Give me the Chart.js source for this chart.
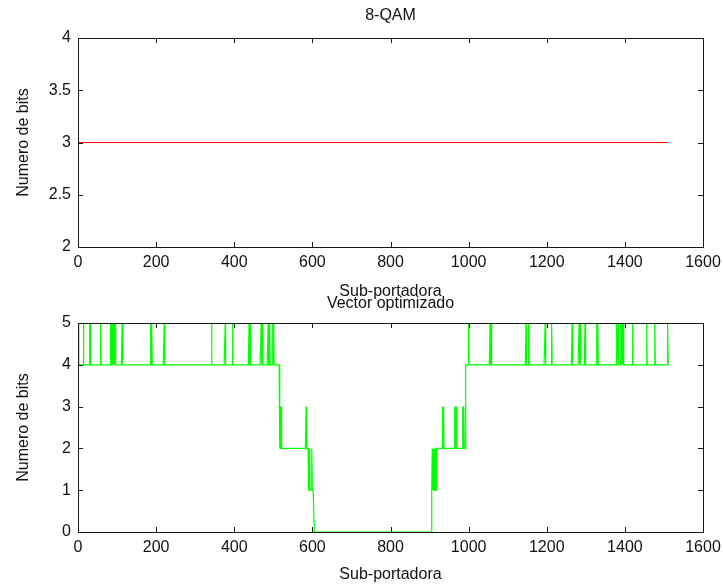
<!DOCTYPE html>
<html>
<head>
<meta charset="utf-8">
<script src="https://cdn.jsdelivr.net/npm/chart.js@4.4.0/dist/chart.umd.min.js"></script>
<style>
  html, body { margin: 0; padding: 0; background: #ffffff; }
  #wrap { position: relative; width: 723px; height: 587px; background: #ffffff; overflow: hidden; }
  #c1 { position: absolute; left: 0; top: 0; }
  #c2 { position: absolute; left: 0; top: 290px; }
</style>
</head>
<body>
<div id="wrap">
  <canvas id="c1" width="723" height="300"></canvas>
  <canvas id="c2" width="723" height="297"></canvas>
</div>
<script>
// ---------------- DATA ----------------
const numSubcarriers = 1512;
const xTicks = [0, 200, 400, 600, 800, 1000, 1200, 1400, 1600];
const qamTicks = [2, 2.5, 3, 3.5, 4];
const optTicks = [0, 1, 2, 3, 4, 5];
const qamBits = 3;                 // constant 8-QAM loading
// optimized vector: [first subcarrier, last subcarrier, bits]
const levelSegments = [
  [1, 516, 4],
  [517, 589, 2],
  [590, 604, 1],
  [605, 904, 0],
  [905, 917, 1],
  [918, 992, 2],
  [993, 1512, 4]
];
// single-subcarrier deviations: [subcarrier, bits]
const spikes = [
  [1,5],[14,5],[30,5],[32,5],[58,5],[84,5],[87,5],[90,5],[93,5],[95,5],[113,5],
  [186,5],[189,5],[221,5],[342,5],[377,5],[396,5],[438,5],[441,5],[469,5],[472,5],
  [487,5],[491,5],[498,5],[501,5],
  [518,3],[521,3],[584,3],
  [591,2],[593,2],[599,2],
  [907,2],[909,2],[911,2],[913,2],[915,2],
  [933,3],[936,3],[965,3],[968,3],[985,3],[988,3],
  [1000,5],[1055,5],[1058,5],[1147,5],[1154,5],[1196,5],[1213,5],[1265,5],
  [1283,5],[1286,5],[1298,5],[1328,5],[1331,5],[1379,5],[1383,5],[1390,5],
  [1393,5],[1396,5],[1420,5],[1456,5],[1477,5],[1510,5]
];

// ---------------- BUILD SERIES ----------------
const spikeMap = new Map(spikes);
function levelAt(n) {
  for (const [a, b, v] of levelSegments) if (n >= a && n <= b) return v;
  return null;
}
const optPoints = [];
const qamPoints = [];
for (let n = 1; n <= numSubcarriers; n++) {
  const v = spikeMap.has(n) ? spikeMap.get(n) : levelAt(n);
  optPoints.push({ x: n, y: v });
  qamPoints.push({ x: n, y: qamBits });
}

// ---------------- STYLE ----------------
const FONT = "'Liberation Sans', Arial, Helvetica, sans-serif";
const TXT = '#111111';
const FS = 16;
Chart.defaults.animation = false;
Chart.defaults.font.family = FONT;
Chart.defaults.color = TXT;

const boxTicks = {
  id: 'boxTicks',
  afterDatasetsDraw(chart) {
    const ctx = chart.ctx;
    const a = chart.chartArea;
    const xs = chart.scales.x, ys = chart.scales.y;
    const L = 5;
    ctx.save();
    ctx.strokeStyle = '#1a1a1a';
    ctx.lineWidth = 1;
    ctx.beginPath();
    xs.ticks.forEach(t => {
      const p = Math.round(xs.getPixelForValue(t.value)) + 0.5;
      ctx.moveTo(p, a.bottom); ctx.lineTo(p, a.bottom - L);
      ctx.moveTo(p, a.top); ctx.lineTo(p, a.top + L);
    });
    ys.ticks.forEach(t => {
      const p = Math.round(ys.getPixelForValue(t.value)) + 0.5;
      ctx.moveTo(a.left, p); ctx.lineTo(a.left + L, p);
      ctx.moveTo(a.right, p); ctx.lineTo(a.right - L, p);
    });
    ctx.stroke();
    ctx.strokeRect(Math.round(a.left) + 0.5, Math.round(a.top) + 0.5,
                   Math.round(a.right - a.left), Math.round(a.bottom - a.top));
    ctx.restore();
  }
};

function makeChart(canvasId, points, color, yMin, yMax, yTickVals, titleText, titlePad, xAxisHeight, xTitlePadBottom) {
  return new Chart(document.getElementById(canvasId), {
    type: 'line',
    data: {
      datasets: [{
        data: points,
        borderColor: color,
        borderWidth: 1.2,
        pointRadius: 0,
        tension: 0,
        fill: false
      }]
    },
    options: {
      responsive: false,
      animation: false,
      parsing: false,
      normalized: true,
      layout: { padding: { left: 0, right: 20, top: 0, bottom: 0 } },
      plugins: {
        legend: { display: false },
        tooltip: { enabled: false },
        title: {
          display: true,
          fullSize: false,
          text: titleText,
          color: TXT,
          font: { family: FONT, size: FS, weight: 'normal', lineHeight: 1 },
          padding: titlePad
        }
      },
      scales: {
        x: {
          type: 'linear',
          min: 0, max: 1600,
          afterBuildTicks: s => { s.ticks = xTicks.map(v => ({ value: v })); },
          afterFit: s => { s.height = xAxisHeight; s.paddingLeft = 0; s.paddingRight = 0; },
          grid: { display: false, drawTicks: false },
          border: { display: false },
          ticks: { padding: 8, maxRotation: 0, autoSkip: false, color: TXT,
                   callback: v => String(v),
                   font: { family: FONT, size: FS, lineHeight: 1 } },
          title: { display: true, text: 'Sub-portadora', color: TXT,
                   font: { family: FONT, size: FS, lineHeight: 1 },
                   padding: { top: 0, bottom: xTitlePadBottom } }
        },
        y: {
          type: 'linear',
          min: yMin, max: yMax,
          afterBuildTicks: s => { s.ticks = yTickVals.map(v => ({ value: v })); },
          afterFit: s => { s.width = 78; s.paddingTop = 0; s.paddingBottom = 0; },
          grid: { display: false, drawTicks: false },
          border: { display: false },
          ticks: { padding: 7, autoSkip: false, color: TXT,
                   callback: v => String(v),
                   font: { family: FONT, size: FS, lineHeight: 1 } },
          title: { display: true, text: 'Numero de bits', color: TXT,
                   font: { family: FONT, size: FS, lineHeight: 1 },
                   padding: { top: 16, bottom: 0 } }
        }
      }
    },
    plugins: [boxTicks]
  });
}

makeChart('c1', qamPoints, '#ff0000', 2, 4, qamTicks, '8-QAM', { top: 8, bottom: 14 }, 53, 0);
makeChart('c2', optPoints, '#00ff00', 0, 5, optTicks, 'Vector optimizado', { top: 6, bottom: 11 }, 55, 4);
</script>
</body>
</html>
